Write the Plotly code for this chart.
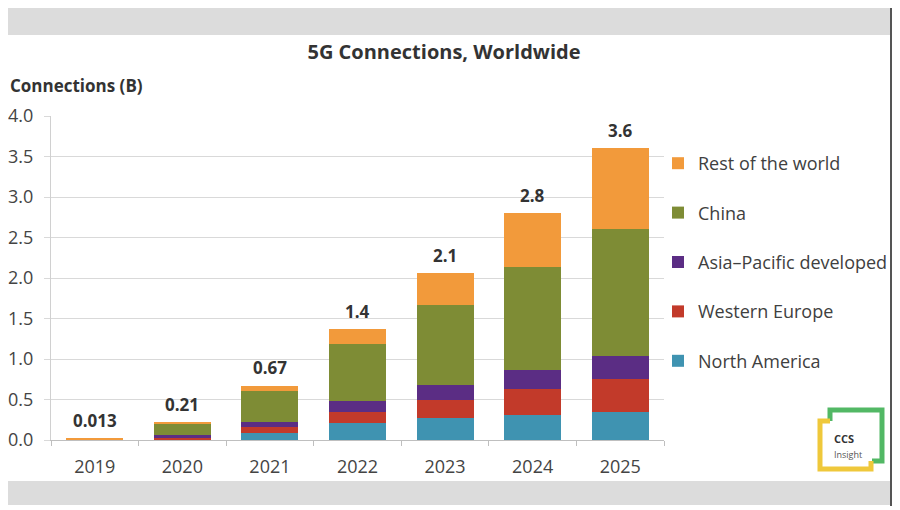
import plotly.graph_objects as go

years = ["2019", "2020", "2021", "2022", "2023", "2024", "2025"]
north_america = [0.004, 0.010, 0.090, 0.210, 0.275, 0.310, 0.350]
western_europe = [0.002, 0.015, 0.075, 0.140, 0.225, 0.315, 0.400]
asia_pacific = [0.004, 0.035, 0.060, 0.135, 0.180, 0.240, 0.290]
china = [0.002, 0.140, 0.385, 0.700, 0.990, 1.265, 1.560]
rest_of_world = [0.001, 0.010, 0.060, 0.185, 0.390, 0.670, 1.000]
total_labels = ["0.013", "0.21", "0.67", "1.4", "2.1", "2.8", "3.6"]

series = [
    ("North America", north_america, "#3f93b1"),
    ("Western Europe", western_europe, "#c23a2a"),
    ("Asia\u2013Pacific developed", asia_pacific, "#5b2d84"),
    ("China", china, "#7e8c35"),
    ("Rest of the world", rest_of_world, "#f29a3b"),
]

FONT = "Open Sans"

# the page puts the figure 8px in from the top-left corner
OFF = 8
W, H = 900 - OFF, 510 - OFF
# plot area in screen pixels: x 51..664, y 116..440
L, R, T, B = 51 - OFF, 664 - OFF, 116 - OFF, 440 - OFF

def px(x):
    return (x - OFF - L) / (R - L)

def py(y):
    return (B - (y - OFF)) / (B - T)

fig = go.Figure()
for i, (name, vals, col) in enumerate(series):
    fig.add_trace(go.Bar(
        x=years, y=vals, name=name, legendgroup=name,
        legendrank=len(series) - i,
        marker=dict(color=col, line=dict(width=0)),
    ))

# totals above each bar (category index used as x on the category axis)
totals = [sum(v) for v in zip(*[s[1] for s in series])]
for i, (tot, lab) in enumerate(zip(totals, total_labels)):
    fig.add_annotation(x=i, y=tot, text="<b>" + lab + "</b>", showarrow=False,
                       yanchor="middle", yshift=18,
                       font=dict(family=FONT, size=17, color="#333333"))

shapes = []
# slide frame decorations
shapes.append(dict(type="rect", xref="paper", yref="paper",
                   x0=px(4), x1=px(890), y0=py(3), y1=py(35),
                   fillcolor="#dcdcdc", line=dict(width=0), layer="below"))
shapes.append(dict(type="rect", xref="paper", yref="paper",
                   x0=px(4), x1=px(890), y0=py(481), y1=py(505),
                   fillcolor="#dcdcdc", line=dict(width=0), layer="below"))
shapes.append(dict(type="rect", xref="paper", yref="paper",
                   x0=px(890), x1=px(892), y0=py(2), y1=py(506),
                   fillcolor="#555555", line=dict(width=0)))

# logo
def path(points):
    s = "M %f,%f" % (px(points[0][0]), py(points[0][1]))
    for p in points[1:]:
        s += " L %f,%f" % (px(p[0]), py(p[1]))
    return s

shapes.append(dict(type="path", xref="paper", yref="paper",
                   path=path([(830, 421), (830, 410), (882, 410), (882, 461), (872, 461)]),
                   line=dict(color="#52b865", width=5)))
shapes.append(dict(type="path", xref="paper", yref="paper",
                   path=path([(830, 421), (820, 421), (820, 469), (871, 469), (871, 461)]),
                   line=dict(color="#efc83b", width=5)))

fig.add_annotation(xref="paper", yref="paper", x=px(832), y=py(438),
                   text="<b>CCS</b>", showarrow=False, xanchor="left", yanchor="middle",
                   font=dict(family=FONT, size=11, color="#333333"))
fig.add_annotation(xref="paper", yref="paper", x=px(832), y=py(454),
                   text="Insight", showarrow=False, xanchor="left", yanchor="middle",
                   font=dict(family=FONT, size=9, color="#555555"))

fig.add_annotation(xref="paper", yref="paper", x=px(8), y=py(85),
                   text="<b>Connections (B)</b>", showarrow=False,
                   xanchor="left", yanchor="middle",
                   font=dict(family=FONT, size=17, color="#333333"))

fig.update_layout(
    width=W, height=H,
    margin=dict(l=L, r=W - R, t=T, b=H - B, autoexpand=False),
    paper_bgcolor="white", plot_bgcolor="white",
    barmode="stack", bargap=0.35,
    title=dict(text="<b>5G Connections, Worldwide</b>", x=(444 - OFF) / W, xanchor="center",
               y=1 - (52 - OFF) / H, yanchor="middle",
               font=dict(family=FONT, size=20, color="#333333")),
    font=dict(family=FONT, color="#444444"),
    legend=dict(x=px(658), y=py(145), xanchor="left", yanchor="top",
                traceorder="grouped", tracegroupgap=23,
                font=dict(family=FONT, size=18, color="#404040"),
                bgcolor="rgba(0,0,0,0)"),
    shapes=shapes,
    showlegend=True,
)
fig.update_xaxes(type="category", showline=True, linecolor="#bfbfbf", linewidth=1,
                 ticks="outside", ticklen=5, tickcolor="#bfbfbf",
                 tickson="boundaries", ticklabelstandoff=10,
                 tickfont=dict(family=FONT, size=18, color="#444444"))
fig.update_yaxes(range=[0, 4.0], dtick=0.5, tickformat=".1f",
                 showline=True, linecolor="#d0d0d0", linewidth=1,
                 showgrid=True, gridcolor="#d9d9d9", gridwidth=1,
                 ticks="outside", ticklen=6, tickcolor="#d9d9d9",
                 zeroline=False, ticklabelstandoff=7,
                 tickfont=dict(family=FONT, size=18, color="#444444"))

fig.write_html("out.html")
